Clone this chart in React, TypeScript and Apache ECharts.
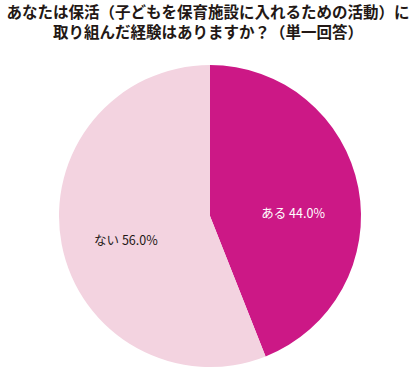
import React, { useEffect, useRef } from "react";
import * as echarts from "echarts";

const titleLines = [
  "あなたは保活（子どもを保育施設に入れるための活動）に",
  "取り組んだ経験はありますか？（単一回答）",
];
const categories = ["ある", "ない"];
const values = [44.0, 56.0];
const colors = ["#cc1886", "#f3d3e0"];
const labelColors = ["#ffffff", "#231815"];
const labelShift = [
  [6, 11],
  [-7, 9],
];

export default function App() {
  const ref = useRef<HTMLDivElement>(null);
  useEffect(() => {
    document.body.style.margin = "0";
    const chart = echarts.init(ref.current!, null, { renderer: "svg" });
    const tStyle = {
      fontFamily: "Noto Sans CJK JP",
      fontWeight: "bold",
      fontSize: 15.5,
      lineHeight: 19,
      color: "#231815",
    };
    chart.setOption({
      animation: false,
      backgroundColor: "#ffffff",
      title: {
        text: titleLines[0],
        subtext: titleLines[1],
        left: 208,
        top: 1,
        textAlign: "center",
        padding: 0,
        itemGap: 1,
        textStyle: tStyle,
        subtextStyle: tStyle,
      },
      series: [
        {
          type: "pie",
          center: [210, 216],
          radius: [0, 151],
          startAngle: 90,
          clockwise: true,
          silent: true,
          data: categories.map((c, i) => ({
            name: c,
            value: values[i],
            itemStyle: { color: colors[i] },
            label: { color: labelColors[i] },
          })),
          label: {
            show: true,
            position: "inside",
            formatter: (p: any) => `${p.name} ${p.value.toFixed(1)}%`,
            fontFamily: "Noto Sans CJK JP",
            fontSize: 12.5,
          },
          labelLayout: (p: any) => ({
            dx: labelShift[p.dataIndex][0],
            dy: labelShift[p.dataIndex][1],
          }),
          labelLine: { show: false },
        },
      ],
    });
    return () => chart.dispose();
  }, []);
  return <div ref={ref} style={{ width: 416, height: 368 }} />;
}
